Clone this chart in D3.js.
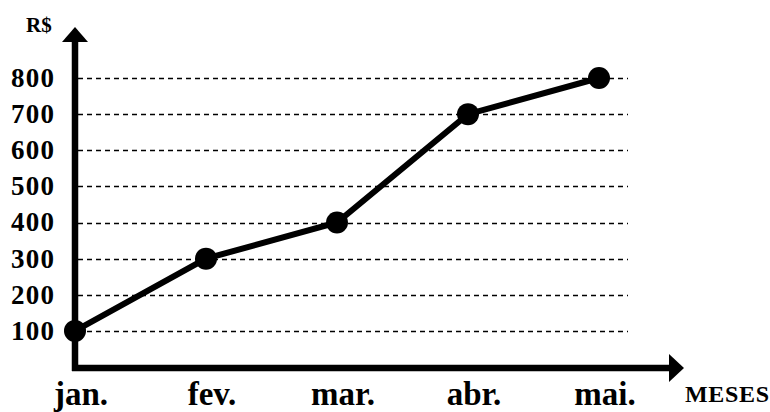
<!DOCTYPE html>
<html>
<head>
<meta charset="utf-8">
<script src="https://cdn.jsdelivr.net/npm/d3@7"></script>
<style>
  body { margin: 0; background: #fff; }
  text { font-family: "Liberation Serif", "Times New Roman", serif; font-weight: bold; fill: #000; }
</style>
</head>
<body>
<div id="chart"></div>
<script>
// data
var months = ["jan.", "fev.", "mar.", "abr.", "mai."];
var values = [100, 300, 400, 700, 800];
var yTicks = [100, 200, 300, 400, 500, 600, 700, 800];

var width = 770, height = 412;

var svg = d3.select("#chart")
    .append("svg")
    .attr("width", width)
    .attr("height", height);

// scales
var x = d3.scalePoint().domain(months).range([75, 599]);
var y = d3.scaleLinear().domain([0, 800]).range([367, 78]);

// dashed grid lines
svg.append("g").selectAll("line")
    .data(yTicks)
    .enter().append("line")
    .attr("x1", 78)
    .attr("x2", 628)
    .attr("y1", function(d) { return Math.round(y(d)) + 0.5; })
    .attr("y2", function(d) { return Math.round(y(d)) + 0.5; })
    .attr("stroke", "#000")
    .attr("stroke-width", 1.3)
    .attr("stroke-dasharray", "5,4");

// y tick labels
svg.append("g").selectAll("text")
    .data(yTicks)
    .enter().append("text")
    .attr("x", 54)
    .attr("y", function(d) { return y(d); })
    .attr("dy", "0.33em")
    .attr("text-anchor", "end")
    .attr("textLength", 43)
    .style("font-size", "27px")
    .text(function(d) { return d; });

// axes with arrows
var x0 = x.range()[0], y0 = y.range()[0];
svg.append("line")
    .attr("x1", x0).attr("x2", x0)
    .attr("y1", y0 + 4).attr("y2", 40)
    .attr("stroke", "#000").attr("stroke-width", 6.5);
svg.append("path")
    .attr("d", "M" + x0 + ",27L" + (x0 - 13) + ",42L" + (x0 + 13) + ",42Z")
    .attr("fill", "#000");

svg.append("line")
    .attr("x1", x0 - 3).attr("x2", 671)
    .attr("y1", y0 + 1).attr("y2", y0 + 1)
    .attr("stroke", "#000").attr("stroke-width", 6.5);
svg.append("path")
    .attr("d", "M684," + (y0 + 1) + "L669," + (y0 - 13) + "L669," + (y0 + 15) + "Z")
    .attr("fill", "#000");

// axis titles
svg.append("text")
    .attr("x", 26).attr("y", 32)
    .style("font-size", "21px")
    .text("R$");
svg.append("text")
    .attr("x", 685).attr("y", 402)
    .style("font-size", "24px")
    .attr("textLength", 84)
    .text("MESES");

// month labels
svg.append("g").selectAll("text")
    .data(months)
    .enter().append("text")
    .attr("x", function(d) { return x(d) + 6; })
    .attr("y", 405)
    .attr("text-anchor", "middle")
    .style("font-size", "33px")
    .text(function(d) { return d; });

// line + points
var line = d3.line()
    .x(function(d, i) { return x(months[i]); })
    .y(function(d) { return y(d); });

svg.append("path")
    .datum(values)
    .attr("d", line)
    .attr("fill", "none")
    .attr("stroke", "#000")
    .attr("stroke-width", 6);

svg.append("g").selectAll("circle")
    .data(values)
    .enter().append("circle")
    .attr("cx", function(d, i) { return x(months[i]); })
    .attr("cy", function(d) { return y(d); })
    .attr("r", 11)
    .attr("fill", "#000");
</script>
</body>
</html>
